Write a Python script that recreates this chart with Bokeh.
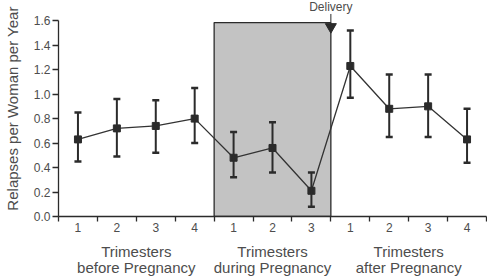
from bokeh.plotting import figure
from bokeh.models import (ColumnDataSource, FixedTicker, Whisker, TeeHead, Label,
                          Range1d, LinearAxis)
from bokeh.embed import file_html
from bokeh.resources import INLINE

# Relapse rate per trimester: 4 before, 3 during, 4 after pregnancy
positions = [1, 2, 3, 4, 5, 6, 7, 8, 9, 10, 11]
trimester_labels = ["1", "2", "3", "4", "1", "2", "3", "1", "2", "3", "4"]
rates = [0.63, 0.72, 0.74, 0.80, 0.48, 0.56, 0.21, 1.23, 0.88, 0.90, 0.63]
ci_lower = [0.45, 0.49, 0.52, 0.60, 0.32, 0.36, 0.08, 0.97, 0.65, 0.65, 0.44]
ci_upper = [0.85, 0.96, 0.95, 1.05, 0.69, 0.77, 0.36, 1.52, 1.16, 1.16, 0.88]
y_ticks = [0, 0.2, 0.4, 0.6, 0.8, 1.0, 1.2, 1.4, 1.6]
group_titles = ["Trimesters\nbefore Pregnancy", "Trimesters\nduring Pregnancy",
                "Trimesters\nafter Pregnancy"]
group_centers = [2.5, 6.0, 9.5]
pregnancy_span = (4.5, 7.5)
delivery_at = 7.5

FONT = "Liberation Sans"
TEXT = "#4d4d4d"
INK = "#2b2b2b"

src = ColumnDataSource(dict(x=positions, y=rates, lo=ci_lower, hi=ci_upper))

p = figure(width=487, height=278, output_backend="svg", toolbar_location=None,
           x_range=Range1d(0.5, 11.5), y_range=Range1d(0, 1.765),
           min_border_left=58, min_border_right=1, min_border_top=0,
           min_border_bottom=60)
p.outline_line_color = None
p.grid.visible = False
p.background_fill_color = "white"

# Shaded pregnancy period
p.quad(left=[pregnancy_span[0]], right=[pregnancy_span[1]], bottom=[0], top=[1.585],
       fill_color="#c3c3c3", line_color=INK, line_width=1.3)

# Confidence intervals
whisk = Whisker(source=src, base="x", lower="lo", upper="hi",
                line_color=INK, line_width=2, level="glyph",
                upper_head=TeeHead(size=7, line_color=INK, line_width=2.5),
                lower_head=TeeHead(size=7, line_color=INK, line_width=2.5))
p.add_layout(whisk)

p.line("x", "y", source=src, line_color="#333333", line_width=1.3)
p.scatter("x", "y", source=src, marker="square", size=7, fill_color=INK,
          line_color=INK)

# Delivery marker
p.scatter([delivery_at], [1.55], marker="inverted_triangle", size=11,
          fill_color=INK, line_color=INK)
p.segment([delivery_at], [1.585], [delivery_at], [1.655], line_color=INK, line_width=1)
p.add_layout(Label(x=delivery_at, y=1.71, text="Delivery", text_align="center",
                   text_baseline="middle", text_font=FONT, text_font_size="12px",
                   text_color=TEXT))

# Y axis stops at 1.6 even though the frame leaves room above
p.yaxis.bounds = (0, 1.6)
p.yaxis.ticker = FixedTicker(ticks=y_ticks)
p.yaxis.major_label_overrides = {v: f"{v:.1f}" for v in y_ticks}
p.yaxis.minor_tick_line_color = None
p.yaxis.major_tick_in = 0
p.yaxis.major_tick_out = 6
p.yaxis.major_label_standoff = 2
p.yaxis.axis_label = "Relapses per Woman per Year"
p.yaxis.axis_label_text_font = FONT
p.yaxis.axis_label_text_font_style = "normal"
p.yaxis.axis_label_text_font_size = "15px"
p.yaxis.axis_label_text_color = TEXT
p.yaxis.axis_label_standoff = 10

p.xaxis.ticker = FixedTicker(ticks=positions,
                             minor_ticks=[x + 0.5 for x in range(0, 12)])
p.xaxis.major_label_overrides = {x: lab for x, lab in zip(positions, trimester_labels)}
p.xaxis.major_tick_in = 0
p.xaxis.major_tick_out = 0
p.xaxis.minor_tick_in = 0
p.xaxis.minor_tick_out = 5
p.xaxis.minor_tick_line_color = INK
p.xaxis.minor_tick_line_width = 1.3
p.xaxis.major_label_standoff = 1

for ax in (p.xaxis, p.yaxis):
    ax.axis_line_color = INK
    ax.axis_line_width = 1.3
    ax.major_tick_line_color = INK
    ax.major_tick_line_width = 1.3
    ax.major_label_text_font = FONT
    ax.major_label_text_font_size = "12px"
    ax.major_label_text_color = TEXT

# Group titles under the trimester numbers
groups = LinearAxis(ticker=FixedTicker(ticks=group_centers),
                    major_label_overrides={c: t for c, t in zip(group_centers, group_titles)},
                    axis_line_color=None, major_tick_line_color=None,
                    minor_tick_line_color=None, major_label_standoff=8,
                    major_tick_out=0, major_tick_in=0,
                    major_label_text_font=FONT, major_label_text_font_size="15px",
                    major_label_text_color=TEXT, major_label_text_align="center",
                    major_label_text_line_height=0.95)
p.add_layout(groups, "below")

open("out.html", "w").write(file_html(p, INLINE))
